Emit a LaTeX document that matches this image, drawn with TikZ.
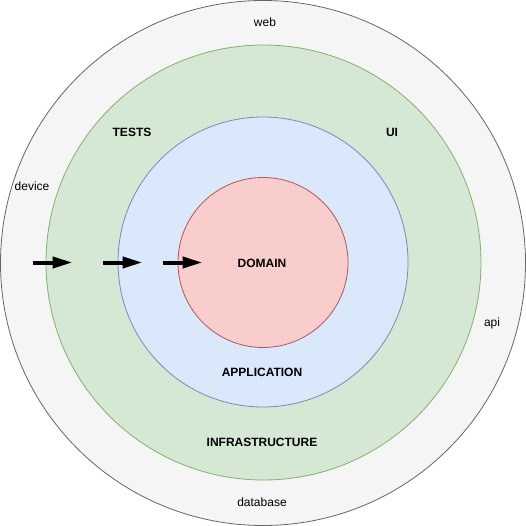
\documentclass[tikz,border=0pt]{standalone}
\usepackage{fontspec}
\setmainfont{Liberation Sans}
\usetikzlibrary{arrows.meta}
\definecolor{outerfill}{HTML}{F5F5F5}
\definecolor{outerdraw}{HTML}{666666}
\definecolor{greenfill}{HTML}{D5E8D4}
\definecolor{greendraw}{HTML}{82B366}
\definecolor{bluefill}{HTML}{DAE8FC}
\definecolor{bluedraw}{HTML}{6C8EBF}
\definecolor{redfill}{HTML}{F8CECC}
\definecolor{reddraw}{HTML}{B85450}
\tikzset{
  ring/.style={circle, inner sep=0pt, line width=0.8pt},
  lbl/.style={font=\fontsize{12}{14}\selectfont, inner sep=0pt},
  blbl/.style={font=\fontsize{12}{14}\selectfont\bfseries, inner sep=0pt},
  flow/.style={line width=4pt, -{Triangle[length=20pt,width=11pt]}},
}
\begin{document}
\begin{tikzpicture}[x=1pt,y=-1pt]
\useasboundingbox (0,0) rectangle (526,526);
\node[ring, fill=outerfill, draw=outerdraw, minimum size=525pt] (outer) at (263,263) {};
\node[ring, fill=greenfill, draw=greendraw, minimum size=435pt] (infra) at (263.5,262.5) {};
\node[ring, fill=bluefill, draw=bluedraw, minimum size=290pt] (app) at (263,262) {};
\node[ring, fill=redfill, draw=reddraw, minimum size=170pt] (dom) at (263,262.5) {};
\node[lbl] (web) at (265,22) {web};
\node[lbl] (device) at (32,186) {device};
\node[lbl] (api) at (492,323) {api};
\node[lbl] (db) at (262,502) {database};
\node[blbl] (tests) at (132,132) {TESTS};
\node[blbl] (ui) at (392,132) {UI};
\node[blbl] (domain) at (262,263) {DOMAIN};
\node[blbl] (application) at (262,372) {APPLICATION};
\node[blbl] (infrastructure) at (262,442) {INFRASTRUCTURE};
\coordinate (a1s) at (32.5,262.5);
\coordinate (a1e) at (72.5,262.5);
\coordinate (a2s) at (102.5,262.5);
\coordinate (a2e) at (142.5,262.5);
\coordinate (a3s) at (162.5,262.5);
\coordinate (a3e) at (202.5,262.5);
\draw[flow] (a1s) -- (a1e);
\draw[flow] (a2s) -- (a2e);
\draw[flow] (a3s) -- (a3e);
\end{tikzpicture}
\end{document}
